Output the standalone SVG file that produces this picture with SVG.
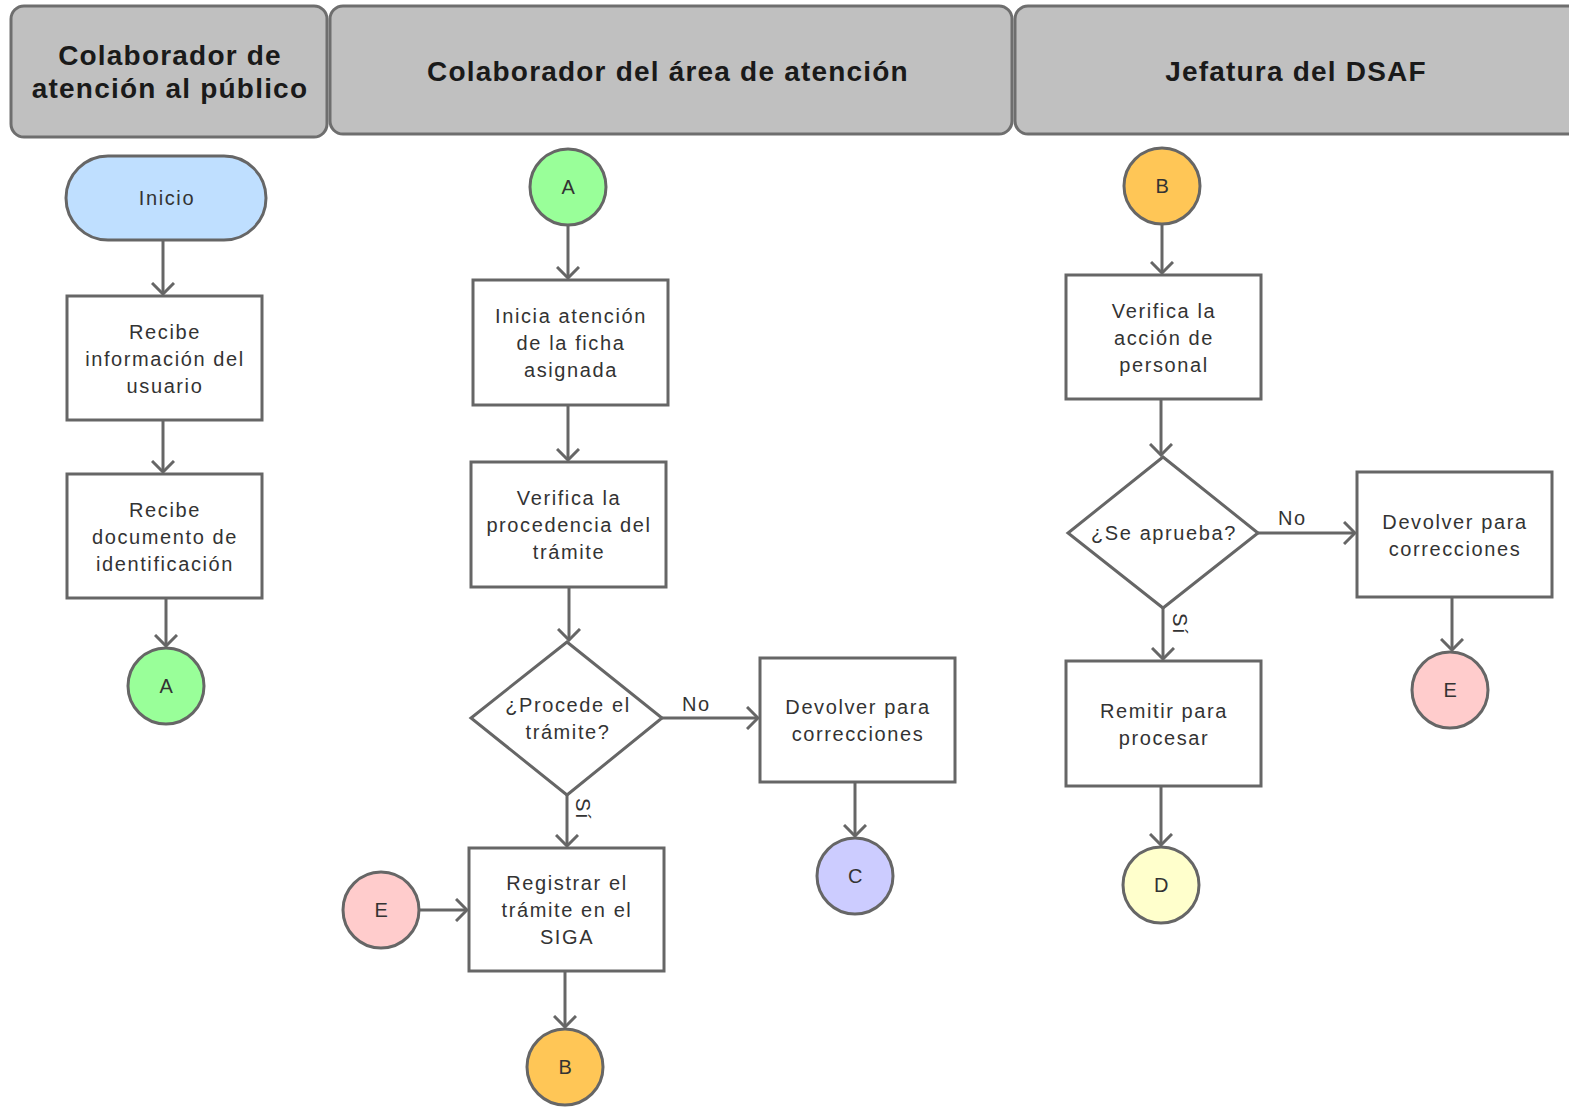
<svg xmlns="http://www.w3.org/2000/svg" width="1569" height="1107" viewBox="0 0 1569 1107">
<defs>
<style>
.lane{fill:#c0c0c0;stroke:#6e6e6e;stroke-width:3}
.hd{font-family:"Liberation Sans",Arial,sans-serif;font-size:28px;font-weight:bold;fill:#1a1a1a;text-anchor:middle;letter-spacing:1.2px}
.box{fill:#fff;stroke:#666;stroke-width:3}
.t{font-family:"Liberation Sans",Arial,sans-serif;font-size:20px;fill:#333;text-anchor:middle;letter-spacing:1.6px}
.lbl{font-family:"Liberation Sans",Arial,sans-serif;font-size:20px;fill:#333;letter-spacing:1.6px}
.c{stroke:#666;stroke-width:3;fill:none;marker-end:url(#ah)}
</style>
<marker id="ah" markerUnits="userSpaceOnUse" viewBox="0 0 14 24" refX="12" refY="12" markerWidth="14" markerHeight="24" orient="auto">
<path d="M1,1 L12,12 L1,23" fill="none" stroke="#666" stroke-width="3"/>
</marker>
</defs>
<rect width="1569" height="1107" fill="#fff"/>
<g id="lanes">
<rect class="lane" x="11" y="6" width="316" height="131" rx="13"/>
<rect class="lane" x="330" y="6" width="682" height="128" rx="13"/>
<rect class="lane" x="1015" y="6" width="570" height="128" rx="13"/>
<text class="hd" x="170" y="65">Colaborador de</text>
<text class="hd" x="170" y="98">atención al público</text>
<text class="hd" x="668" y="81">Colaborador del área de atención</text>
<text class="hd" x="1296" y="81">Jefatura del DSAF</text>
</g>
<g id="connectors">
<path class="c" d="M163,241 L163,294"/>
<path class="c" d="M163,421 L163,472"/>
<path class="c" d="M166,599 L166,646"/>
<path class="c" d="M568,226 L568,278"/>
<path class="c" d="M568,406 L568,460"/>
<path class="c" d="M569,588 L569,640"/>
<path class="c" d="M662,718 L758,718"/>
<path class="c" d="M567,795 L567,846"/>
<path class="c" d="M855,783 L855,836"/>
<path class="c" d="M419,910 L467,910"/>
<path class="c" d="M565,972 L565,1027"/>
<path class="c" d="M1162,225 L1162,273"/>
<path class="c" d="M1161,400 L1161,455"/>
<path class="c" d="M1258,533 L1355,533"/>
<path class="c" d="M1163,608 L1163,659"/>
<path class="c" d="M1452,598 L1452,650"/>
<path class="c" d="M1161,787 L1161,845"/>
<text class="lbl" x="682" y="711">No</text>
<text class="lbl" x="1278" y="525">No</text>
<text class="lbl" transform="translate(576,798) rotate(90)">Sí</text>
<text class="lbl" transform="translate(1173,613) rotate(90)">Sí</text>
</g>
<g id="inicio">
<rect x="66" y="156" width="200" height="84" rx="42" fill="#bfdfff" stroke="#666" stroke-width="3"/>
<text class="t" x="167" y="205">Inicio</text>
</g>
<g id="recibe-info">
<rect class="box" x="67" y="296" width="195" height="124"/>
<text class="t" x="165" y="339">Recibe</text>
<text class="t" x="165" y="366">información del</text>
<text class="t" x="165" y="393">usuario</text>
</g>
<g id="recibe-doc">
<rect class="box" x="67" y="474" width="195" height="124"/>
<text class="t" x="165" y="517">Recibe</text>
<text class="t" x="165" y="544">documento de</text>
<text class="t" x="165" y="571">identificación</text>
</g>
<g id="a1">
<circle cx="166" cy="686" r="38" fill="#99ff99" stroke="#666" stroke-width="3"/>
<text class="t" x="167" y="693">A</text>
</g>
<g id="a2">
<circle cx="568" cy="187" r="38" fill="#99ff99" stroke="#666" stroke-width="3"/>
<text class="t" x="569" y="194">A</text>
</g>
<g id="inicia">
<rect class="box" x="473" y="280" width="195" height="125"/>
<text class="t" x="571" y="323">Inicia atención</text>
<text class="t" x="571" y="350">de la ficha</text>
<text class="t" x="571" y="377">asignada</text>
</g>
<g id="verifica-proc">
<rect class="box" x="471" y="462" width="195" height="125"/>
<text class="t" x="569" y="505">Verifica la</text>
<text class="t" x="569" y="532">procedencia del</text>
<text class="t" x="569" y="559">trámite</text>
</g>
<g id="procede">
<path class="box" d="M567,642 L662,718 L567,795 L471,718 Z"/>
<text class="t" x="568" y="712">¿Procede el</text>
<text class="t" x="568" y="739">trámite?</text>
</g>
<g id="devolver1">
<rect class="box" x="760" y="658" width="195" height="124"/>
<text class="t" x="858" y="714">Devolver para</text>
<text class="t" x="858" y="741">correcciones</text>
</g>
<g id="c">
<circle cx="855" cy="876" r="38" fill="#ccccff" stroke="#666" stroke-width="3"/>
<text class="t" x="856" y="883">C</text>
</g>
<g id="e1">
<circle cx="381" cy="910" r="38" fill="#ffcccc" stroke="#666" stroke-width="3"/>
<text class="t" x="382" y="917">E</text>
</g>
<g id="registrar">
<rect class="box" x="469" y="848" width="195" height="123"/>
<text class="t" x="567" y="890">Registrar el</text>
<text class="t" x="567" y="917">trámite en el</text>
<text class="t" x="567" y="944">SIGA</text>
</g>
<g id="b1">
<circle cx="565" cy="1067" r="38" fill="#ffc656" stroke="#666" stroke-width="3"/>
<text class="t" x="566" y="1074">B</text>
</g>
<g id="b2">
<circle cx="1162" cy="186" r="38" fill="#ffc656" stroke="#666" stroke-width="3"/>
<text class="t" x="1163" y="193">B</text>
</g>
<g id="verifica-accion">
<rect class="box" x="1066" y="275" width="195" height="124"/>
<text class="t" x="1164" y="318">Verifica la</text>
<text class="t" x="1164" y="345">acción de</text>
<text class="t" x="1164" y="372">personal</text>
</g>
<g id="aprueba">
<path class="box" d="M1163,457 L1258,533 L1163,608 L1068,533 Z"/>
<text class="t" x="1164" y="540">¿Se aprueba?</text>
</g>
<g id="devolver2">
<rect class="box" x="1357" y="472" width="195" height="125"/>
<text class="t" x="1455" y="529">Devolver para</text>
<text class="t" x="1455" y="556">correcciones</text>
</g>
<g id="e2">
<circle cx="1450" cy="690" r="38" fill="#ffcccc" stroke="#666" stroke-width="3"/>
<text class="t" x="1451" y="697">E</text>
</g>
<g id="remitir">
<rect class="box" x="1066" y="661" width="195" height="125"/>
<text class="t" x="1164" y="718">Remitir para</text>
<text class="t" x="1164" y="745">procesar</text>
</g>
<g id="d">
<circle cx="1161" cy="885" r="38" fill="#ffffcc" stroke="#666" stroke-width="3"/>
<text class="t" x="1162" y="892">D</text>
</g>
</svg>
